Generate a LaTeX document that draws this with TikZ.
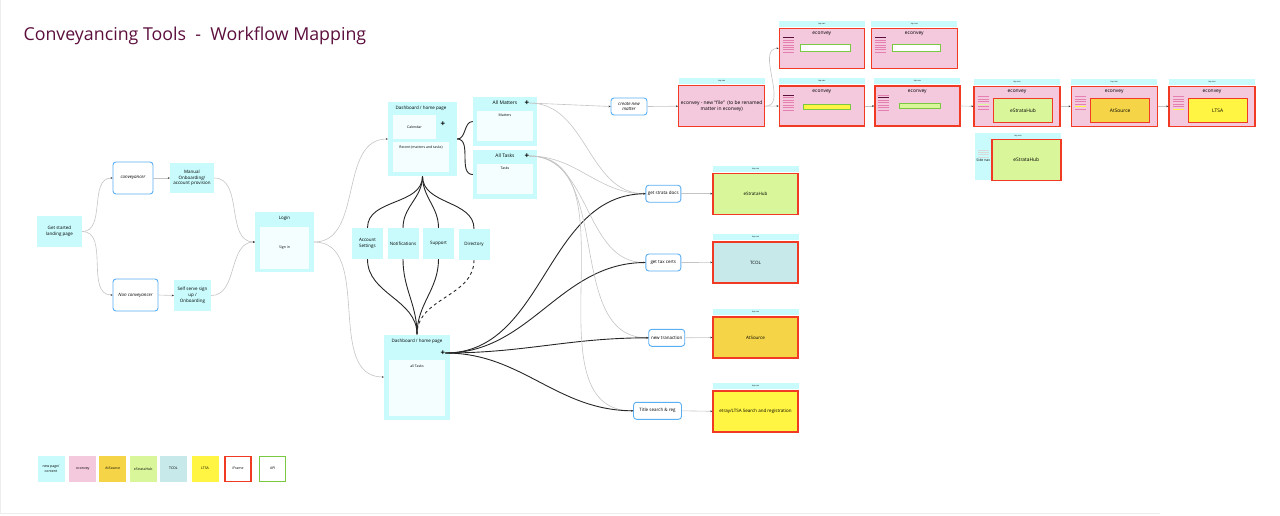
\documentclass[tikz,border=0pt]{standalone}
\usepackage{fontspec}
\setmainfont{Open Sans}
\usetikzlibrary{arrows.meta, positioning, calc}

\newcommand\lbltxt{\fontsize{4.5}{5.8}\selectfont}
\newcommand\smtxt{\fontsize{3.5}{4.3}\selectfont}
\newcommand\navtxt{\fontsize{2}{2.4}\selectfont}
\newcommand\hdtxt{\fontsize{4.9}{5.9}\selectfont}
\newcommand\legtxt{\fontsize{3.5}{4.3}\selectfont}
\newcommand\titletxt{\fontsize{17.8}{21}\selectfont}

\begin{document}
\begin{tikzpicture}[x=1pt, y=-1pt, font=\lbltxt]

\definecolor{pagecyan}{HTML}{C9FBFD}
\definecolor{subwhite}{HTML}{F4FEFF}
\definecolor{choiceblue}{HTML}{5AAEF2}
\definecolor{econpink}{HTML}{F4C9DD}
\definecolor{framered}{HTML}{F03A24}
\definecolor{atsource}{HTML}{F5D547}
\definecolor{strgreen}{HTML}{D9F79A}
\definecolor{tcolblue}{HTML}{C7E9E9}
\definecolor{ltsayellow}{HTML}{FFF542}
\definecolor{apigreen}{HTML}{7AC943}
\definecolor{titleplum}{HTML}{5C0F3D}
\definecolor{menudark}{HTML}{5C0F3D}
\definecolor{menupink}{HTML}{E47FB0}
\definecolor{flowgray}{HTML}{C4C4C4}

\tikzset{
  wh/.style 2 args={minimum width=#1pt, minimum height=#2pt},
  page/.style={fill=pagecyan, align=center, inner sep=1pt},
  sub/.style={fill=subwhite, align=center, inner sep=1pt},
  choice/.style={draw=choiceblue, line width=0.9pt, rounded corners=3pt, fill=white, align=center, inner sep=1pt, font=\lbltxt\itshape},
  action/.style={choice, font=\lbltxt},
  iframe/.style={draw=framered, line width=1.4pt, align=center, inner sep=1pt},
  topnav/.style={fill=pagecyan, minimum width=86pt, minimum height=6pt, inner sep=0pt, font=\navtxt},
  inbox/.style={draw=apigreen, line width=0.7pt, inner sep=0pt},
  plus/.style={font=\bfseries\fontsize{8}{8}\selectfont, inner sep=0pt},
  flow/.style={draw=flowgray, line width=0.6pt, -{Stealth[length=2pt, width=1.8pt, black!80]}},
  link/.style={black!85, line width=0.9pt},
  menu/.style={line width=0.9pt, menupink},
  navline/.style={line width=0.9pt, black!15}
}

\useasboundingbox (0,0) rectangle (1280,515);
\draw[black!7] (0.5,0) -- (0.5,513) -- (1160,513);

%title
\node[anchor=west, font=\titletxt, text=titleplum] (head) at (20,36) {Conveyancing Tools~~-~~Workflow Mapping};

%onboarding
\node[page, wh={45}{31}] (start) at (59.5,231.5) {Get started\\landing page};
\node[choice, wh={40}{32}] (conv) at (133,178) {conveyancer};
\node[page, wh={44}{30}] (manual) at (192,178) {Manual\\Onboarding/\\account provision};
\node[choice, wh={45}{32}] (nonconv) at (135.5,295) {Non conveyancer};
\node[page, wh={37}{31}] (selfserve) at (192.5,295.5) {Self serve sign\\up /\\Onboarding};

\node[page, wh={59}{60}] (login) at (284.5,242) {};
\node (logintitle) at (284.5,218) {Login};
\node[sub, wh={49}{42}, font=\smtxt] (signin) at (284.5,248) {Sign in};

\draw[flow] (start.east) to[out=0, in=180] (conv.west);
\draw[flow] (start.east) to[out=0, in=180] (nonconv.west);
\draw[flow] (conv.east) -- (manual.west);
\draw[flow] (nonconv.east) -- (selfserve.west);
\draw[flow] (manual.east) to[out=0, in=180] (login.west);
\draw[flow] (selfserve.east) to[out=0, in=180] (login.west);

%dashboard
\node[page, wh={69}{74}] (dash) at (422.5,139) {};
\node (dashtitle) at (421,108) {Dashboard / home page};
\node[sub, wh={43}{24}, font=\smtxt] (cal) at (414.5,127) {Calendar};
\node[plus] (dashplus) at (443,124) {+};
\node[sub, wh={56}{30}] (recent) at (421,157) {};
\node[font=\smtxt] (recenttitle) at (421,147) {Recent (matters and tasks)};

\node[page, wh={64}{49}] (matters) at (505,121.5) {};
\node[font=\hdtxt] (matterstitle) at (505,103) {All Matters};
\node[plus] (mplus) at (527,103) {+};
\node[sub, wh={56}{30}] (mattersbox) at (505,126) {};
\node[font=\smtxt] (matterslbl) at (505,115) {Matters};

\node[page, wh={64}{49}] (tasks) at (505,174.5) {};
\node[font=\hdtxt] (taskstitle) at (505,156) {All Tasks};
\node[plus] (tplus) at (527,156) {+};
\node[sub, wh={56}{30}] (tasksbox) at (505,179) {};
\node[font=\smtxt] (taskslbl) at (505,168) {Tasks};

\node[page, wh={31}{31}] (acct) at (367.5,243.5) {Account\\Settings};
\node[page, wh={31}{31}] (notif) at (403,243.5) {Notifications};
\node[page, wh={31}{31}] (support) at (438.5,243.5) {Support};
\node[page, wh={31}{31}] (direct) at (474,244.5) {Directory};

\node[page, wh={66}{85}] (dash2) at (417,377) {};
\node (dash2title) at (417,341) {Dashboard / home page};
\node[plus] (dash2plus) at (443,353) {+};
\node[sub, wh={56}{56}] (alltasks) at (417,388) {};
\node[font=\smtxt] (alltaskslbl) at (417,366) {all Tasks};

\draw[flow] (login.east) to[out=0, in=180] (dash.west);
\draw[flow] (login.east) to[out=0, in=180] (dash2.west);

\draw[link] (dash.east) to[out=0, in=180] (matters.west);
\draw[link] (dash.east) to[out=0, in=180] (tasks.west);
\foreach \t in {acct,notif,support,direct} {
  \draw[link] (dash.south) to[out=-90, in=90] (\t.north);
}
\draw[link] (acct.south) to[out=-90, in=90] (dash2.north);
\draw[link] (notif.south) to[out=-90, in=90] (dash2.north);
\draw[link] (support.south) to[out=-90, in=90] (dash2.north);
\draw[link, dashed] (direct.south) to[out=-90, in=90] (dash2.north);

%actions
\node[choice, wh={36}{17}] (newmatter) at (629,106.5) {create new\\matter};
\node[action, wh={35}{17}] (strata) at (663.3,193.7) {get strata docs};
\node[action, wh={35}{17}] (tax) at (663.3,262.5) {get tax certs};
\node[action, wh={36}{17}] (trans) at (666.7,337.8) {new tranaction};
\node[action, wh={48}{17}] (search) at (657.5,410.8) {Title search \& reg};

\draw[flow] (mplus.east) -- (newmatter.west);
\draw[flow] (mplus.east) to[out=0, in=180] (strata.west);
\foreach \a in {strata,tax,trans,search} {
  \draw[flow] (tplus.east) to[out=0, in=180] (\a.west);
  \draw[link] (dash2plus.east) to[out=0, in=180] (\a.west);
}

%targets
\node[iframe, fill=strgreen, wh={85}{41}] (tgstrata) at (755.5,193.7) {eStrataHub};
\node[iframe, fill=tcolblue, wh={85}{41}] (tgtax) at (755.5,262.4) {TCOL};
\node[iframe, fill=atsource, wh={85}{41}] (tgtrans) at (755.5,337.5) {AtSource};
\node[iframe, fill=ltsayellow, wh={85}{41}] (tgsearch) at (755.5,411.3) {etray/LTSA Search and registration};
\foreach \g in {tgstrata,tgtax,tgtrans,tgsearch} {
  \node[topnav, above=0.7pt of \g] (\g nav) {top nav};
}
\draw[flow] (strata.east) -- (tgstrata.west);
\draw[flow] (tax.east) -- (tgtax.west);
\draw[flow] (trans.east) -- (tgtrans.west);
\draw[flow] (search.east) -- (tgsearch.west);

%econvey screens
\node[iframe, fill=econpink, wh={86}{41}, font=\hdtxt] (newfile) at (721.7,106.2) {econvey - new “file”~~(to be renamed\\matter in econvey)};
\node[iframe, fill=econpink, wh={85}{40}] (scrA) at (821.8,48.3) {};
\node[iframe, fill=econpink, wh={86}{40}] (scrB) at (914.3,48.3) {};
\node[iframe, fill=econpink, wh={85}{40}] (scrC) at (821.8,106) {};
\node[iframe, fill=econpink, wh={85}{40}] (scrD) at (917.3,106) {};
\node[iframe, fill=econpink, wh={86}{40}] (scrE) at (1017,106.3) {};
\node[iframe, fill=econpink, wh={86}{40}] (scrF) at (1114.2,106.3) {};
\node[iframe, fill=econpink, wh={86}{40}] (scrG) at (1212,106.3) {};
\foreach \s in {newfile,scrA,scrB,scrC,scrD,scrE,scrF,scrG} {
  \node[topnav, above=0.7pt of \s] (\s nav) {top nav};
}
\foreach \s in {scrA,scrB,scrC,scrD,scrE,scrF,scrG} {
  \node[font=\hdtxt] (\s hd) at ($(\s.north)+(0,6)$) {econvey};
}

\foreach \s in {scrA,scrB,scrC} {
  \foreach \k in {1,...,6}
    \draw[menu] ($(\s.north west)+(4,10+2.45*\k)$) -- ++(11,0);
  \draw[menu, menudark] ($(\s.north west)+(4,10)$) -- ++(11,0);
}
\foreach \k in {0,2,3,4,5,6}
  \draw[menu] ($(scrD.north west)+(3.5,10+2.45*\k)$) -- ++(11,0);
\draw[menu, menudark] ($(scrD.north west)+(3.5,12.45)$) -- ++(11,0);

\foreach \s/\h/\c in {scrE/3/strgreen, scrF/4/ltsayellow, scrG/5/ltsayellow} {
  \foreach \k in {0,...,5}
    \draw[menu] ($(\s.north west)+(4.5,11+2.5*\k)$) -- ++(11,0);
  \draw[menu, \c] ($(\s.north west)+(4.5,11+2.5*\h)$) -- ++(11,0);
}

\node[inbox, fill=white, wh={50}{7}] (scrAin) at (825,47.4) {};
\node[inbox, fill=white, wh={48}{7}] (scrBin) at (916.5,47.4) {};
\node[inbox, fill=ltsayellow, wh={47}{5}, line width=0.4pt] (scrCin) at (826.7,106.8) {};
\node[inbox, fill=strgreen, wh={41}{5.6}, line width=0.4pt] (scrDin) at (920,105.5) {};
\node[iframe, fill=strgreen, wh={59}{24}, font=\hdtxt, line width=1.1pt] (scrEin) at (1023,110.5) {eStrataHub};
\node[iframe, fill=atsource, wh={59}{24}, font=\hdtxt, line width=1.1pt] (scrFin) at (1120.2,110.5) {AtSource};
\node[iframe, fill=ltsayellow, wh={59}{24}, font=\hdtxt, line width=1.1pt] (scrGin) at (1217.7,110.5) {LTSA};

%side nav
\node[page, wh={86}{47}] (scrH) at (1018,156.7) {};
\node[font=\navtxt] (scrHnav) at (1018,136.3) {top nav};
\node[iframe, fill=strgreen, wh={69}{41}, font=\hdtxt] (scrHin) at (1026.3,159.7) {eStrataHub};
\foreach \k in {0,...,3}
  \draw[navline] (978,150+2.4*\k) -- ++(11,0);
\node[font=\smtxt, inner sep=0pt] (sidenav) at (983.3,160.5) {Side nav};

\draw[flow] (newmatter.east) -- (newfile.west);
\draw[flow] (newfile.east) to[out=0, in=180] (scrA.west);
\draw[flow] (newfile.east) -- (scrC.west);
\draw[flow] (scrC.east) -- (scrD.west);
\draw[flow] (scrD.east) -- (scrE.west);
\draw[flow] (scrE.east) -- (scrF.west);
\draw[flow] (scrF.east) -- (scrG.west);

%legend
\node[page, wh={27}{26}, font=\legtxt] (lgpage) at (51,468.7) {new page/\\content};
\node[fill=econpink, wh={27}{26}, font=\legtxt] (lgecon) at (82.8,468.7) {econvey};
\node[fill=atsource, wh={27}{26}, font=\legtxt] (lgats) at (112.8,468.7) {AtSource};
\node[fill=strgreen, wh={27}{26}, font=\legtxt, inner sep=0pt] (lgstr) at (143.2,468.7) {eStrataHub};
\node[fill=tcolblue, wh={27}{26}, font=\legtxt] (lgtcol) at (173.5,468.7) {TCOL};
\node[fill=ltsayellow, wh={27}{26}, font=\legtxt] (lgltsa) at (205,468.7) {LTSA};
\node[draw=framered, line width=1.4pt, wh={26}{25}, font=\legtxt] (lgiframe) at (238,468.7) {iFrame};
\node[draw=apigreen, line width=1.4pt, wh={26}{25}, font=\legtxt] (lgapi) at (272.7,468.7) {API};
\end{tikzpicture}
\end{document}
